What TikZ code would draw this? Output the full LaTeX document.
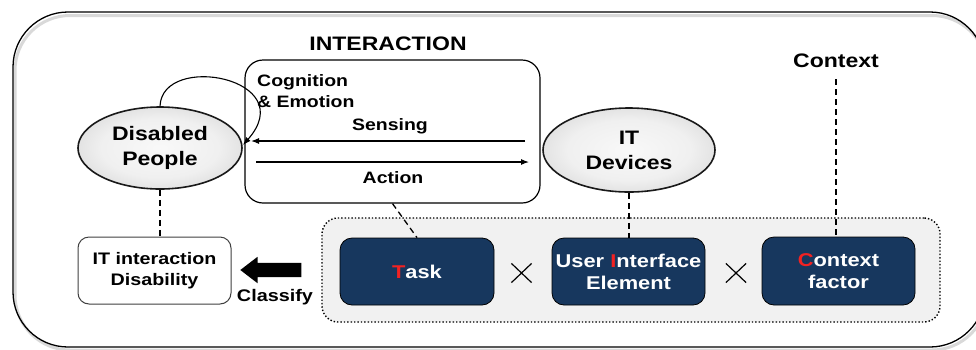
\documentclass[tikz,border=0pt]{standalone}
\usepackage{fontspec}
\setmainfont{Liberation Sans}[FakeStretch=1.18]
\usetikzlibrary{shapes.geometric,shapes.misc,shapes.arrows,arrows.meta}
\definecolor{navy}{HTML}{17375E}
\definecolor{redl}{HTML}{F22222}
\definecolor{panel}{HTML}{F1F1F1}
\pgfdeclareradialshading{ellrim}{\pgfpoint{0bp}{0bp}}{color(0bp)=(gray!5); color(18bp)=(gray!12); color(25bp)=(gray!22); color(29bp)=(gray!45); color(33bp)=(gray!75); color(36bp)=(gray!65); color(100bp)=(gray!65)}
\begin{document}
\begin{tikzpicture}[x=1pt,y=-1pt,
  ell/.style={ellipse, shading=ellrim, draw=black!90, line width=1.6pt, inner sep=0pt, align=center, font=\fontsize{19.5}{25}\selectfont\bfseries},
  navybox/.style={rectangle, rounded corners=12pt, fill=navy, draw=black, line width=0.8pt, text=white, align=center, inner sep=0pt, minimum width=153pt, minimum height=67pt, font=\fontsize{18.5}{22}\selectfont\bfseries},
  lbl/.style={inner sep=0pt, align=center, font=\fontsize{16.5}{21.5}\selectfont\bfseries},
  biglbl/.style={inner sep=0pt, align=center, font=\fontsize{19.5}{24}\selectfont\bfseries},
  dashln/.style={line width=1.3pt, dash pattern=on 6pt off 4pt},
  flowarrow/.style={line width=1.1pt, -{Latex[length=8pt,width=6pt]}},
  timesmark/.style={cross out, draw, line width=1.2pt, minimum width=19pt, minimum height=18pt, inner sep=0pt}
]
\useasboundingbox (0,0) rectangle (976,349);
% outer frame
\begin{scope}
\clip (0,0) rectangle (976,349);
\draw[gray!30, line width=3pt, rounded corners=55pt] (15,15.5) rectangle (987,350);
\draw[line width=1.3pt, rounded corners=55pt] (13,12) rectangle (985,347);
\end{scope}

% interaction box
\node[biglbl] (title) at (388,44) {INTERACTION};
\node[draw, line width=1.2pt, rounded corners=18pt, minimum width=295pt, minimum height=143pt, inner sep=0pt] (ib) at (392.5,131.5) {};
\node[lbl, align=left, anchor=west] (cog) at (257,91) {Cognition\\\& Emotion};
\node[lbl] (sens) at (390,126) {Sensing};
\node[lbl] (act) at (393,178) {Action};

% ellipses
\node[ell, minimum width=164pt, minimum height=82pt] (dp) at (160,148) {Disabled\\People};
\node[ell, minimum width=172pt, minimum height=84pt] (itdev) at (629,150) {IT\\Devices};

% context label
\node[biglbl] (ctx) at (836,61) {Context};

% dotted panel
\node[draw=black, fill=panel, line width=1.4pt, dotted, rounded corners=16pt, minimum width=618pt, minimum height=104pt, inner sep=0pt] (panel) at (631,270) {};

% navy boxes
\node[navybox, minimum width=154pt] (task) at (417,271.5) {{\color{redl}T}ask};
\node[navybox] (ui) at (628.5,271.5) {User {\color{redl}I}nterface\\Element};
\node[navybox, minimum height=68pt] (cf) at (838.5,271) {{\color{redl}C}ontext\\factor};
\node[timesmark] (x1) at (521.5,273) {};
\node[timesmark] (x2) at (736,273) {};

% disability box
\node[draw=black!75, fill=white, line width=1pt, rounded corners=11pt, minimum width=153pt, minimum height=67pt, inner sep=0pt, align=center, font=\fontsize{16.7}{20.5}\selectfont\bfseries] (itd) at (154.5,270.5) {IT interaction\\Disability};

% classify arrow
\node[single arrow, fill=black, shape border rotate=180, minimum height=61pt, inner xsep=0pt, inner ysep=7pt, single arrow head extend=6pt, single arrow tip angle=75] (clsarr) at (275.5,270) {};
\node[lbl, font=\fontsize{16.8}{20}\selectfont\bfseries] (cls) at (275,297) {Classify};

% arrows in interaction
\coordinate (sensR) at (525,141);
\coordinate (sensL) at (251,141);
\coordinate (actL) at (256,162);
\coordinate (actR) at (529,162);
\draw[flowarrow] (sensR) -- (sensL);
\draw[flowarrow] (actL) -- (actR);

% self loop
\draw[line width=1.1pt, -{Latex[length=8pt,width=6pt]}] (dp.north) .. controls (162,52) and (302,78) .. (243,145);

% dashed links
\draw[dashln] (dp.south) -- (dp.south |- itd.north);
\draw[dashln] (ib.south) -- (task.north);
\draw[dashln] (itdev.south) -- (itdev.south |- ui.north);
\draw[dashln] (ctx.south |- 0,79) -- (ctx.south |- cf.north);
\end{tikzpicture}
\end{document}
